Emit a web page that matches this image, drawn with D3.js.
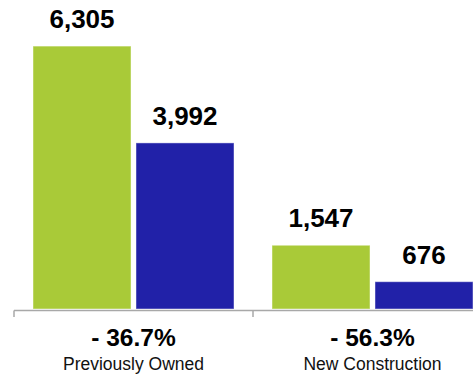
<!DOCTYPE html>
<html>
<head>
<meta charset="utf-8">
<script src="https://cdn.jsdelivr.net/npm/d3@7"></script>
<style>
  html, body { margin: 0; padding: 0; background: #fff; }
  svg { display: block; }
  text { font-family: "Liberation Sans", Arial, Helvetica, sans-serif; }
</style>
</head>
<body>
<svg id="chart" width="473" height="375"></svg>
<script>
const categories = ["Previously Owned", "New Construction"];
const seriesNames = ["2006", "2007"];
const seriesColors = ["#A9CA38", "#2121A8"];
const valuesA = [6305, 1547];
const valuesB = [3992, 676];
const changeLabels = ["- 36.7%", "- 56.3%"];

const width = 473, height = 375;
const svg = d3.select("#chart");

const data = categories.map((c, i) => ({
  cat: c,
  change: changeLabels[i],
  vals: [
    { s: seriesNames[0], v: valuesA[i], color: seriesColors[0] },
    { s: seriesNames[1], v: valuesB[i], color: seriesColors[1] }
  ]
}));

const x0 = d3.scaleBand().domain(categories).range([14, 492]).padding(0);
const x1 = d3.scaleBand().domain(seriesNames).range([19, 220]).paddingInner(0.0485).paddingOuter(0);
const y = d3.scaleLinear().domain([0, 7000]).range([310, 17]);

// bars
const groups = svg.selectAll("g.grp").data(data).join("g")
  .attr("class", "grp")
  .attr("transform", d => `translate(${x0(d.cat)},0)`);

groups.selectAll("rect").data(d => d.vals).join("rect")
  .attr("x", d => x1(d.s))
  .attr("y", d => y(d.v))
  .attr("width", x1.bandwidth())
  .attr("height", d => y(0) - y(d.v) - 1)
  .attr("fill", d => d.color)
  .attr("stroke", "rgba(255,255,255,0.45)")
  .attr("stroke-width", 1);

groups.selectAll("text.val").data(d => d.vals).join("text")
  .attr("class", "val")
  .attr("x", d => x1(d.s) + x1.bandwidth() / 2)
  .attr("y", d => y(d.v) - 18)
  .attr("text-anchor", "middle")
  .attr("font-weight", "bold")
  .attr("font-size", "26px")
  .attr("fill", "#000")
  .text(d => d3.format(",")(d.v));

// axis
const axis = d3.axisBottom(x0).tickSize(6).tickFormat("");
const axisG = svg.append("g").attr("transform", `translate(0,${y(0)})`).call(axis);
axisG.select(".domain").remove();
axisG.selectAll(".tick").remove();
axisG.append("line")
  .attr("x1", x0.range()[0]).attr("x2", width)
  .attr("y1", 0.5).attr("y2", 0.5)
  .attr("stroke", "#a8a8a8").attr("stroke-width", 1.5);
axisG.selectAll("line.tk").data(categories).join("line")
  .attr("class", "tk")
  .attr("x1", d => x0(d)).attr("x2", d => x0(d))
  .attr("y1", 0.5).attr("y2", 7)
  .attr("stroke", "#a8a8a8").attr("stroke-width", 1.5);

// change labels and category labels
groups.append("text")
  .attr("x", x0.bandwidth() / 2)
  .attr("y", 346)
  .attr("text-anchor", "middle")
  .attr("font-weight", "bold")
  .attr("font-size", "24.5px")
  .attr("fill", "#000")
  .text(d => d.change);

groups.append("text")
  .attr("x", x0.bandwidth() / 2)
  .attr("y", 370)
  .attr("text-anchor", "middle")
  .attr("font-size", "17.5px")
  .attr("fill", "#111")
  .text(d => d.cat);
</script>
</body>
</html>
